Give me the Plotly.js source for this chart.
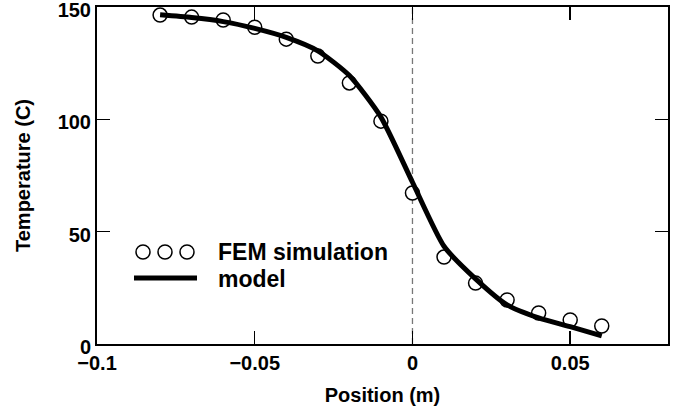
<!DOCTYPE html>
<html>
<head>
<meta charset="utf-8">
<script src="https://cdn.plot.ly/plotly-3.0.1.min.js"></script>
<style>html,body{margin:0;padding:0;background:#fff;}#chart{width:682px;height:411px;}</style>
</head>
<body>
<div id="chart"></div>
<script>
const femX = [-0.08, -0.07, -0.06, -0.05, -0.04, -0.03, -0.02, -0.01, 0, 0.01, 0.02, 0.03, 0.04, 0.05, 0.06];
const femT = [146.4, 145.5, 144.2, 141, 135.7, 128.2, 116.2, 99.2, 67.2, 38.7, 27.1, 19.6, 13.8, 10.7, 8];
const modelX = [-0.08, -0.07, -0.06, -0.05, -0.04, -0.03, -0.02, -0.01, 0, 0.01, 0.02, 0.03, 0.04, 0.05, 0.06];
const modelT = [146.5, 145.3, 143.5, 140.5, 136.5, 130.5, 119.5, 101, 72, 43.5, 29, 17.4, 11.6, 7.7, 3.6];
const xTicks = [-0.1, -0.05, 0, 0.05];
const xTickText = ['\u22120.1', '\u22120.05', '0', '0.05'];
const yTicks = [0, 50, 100, 150];
const legendLabels = ['FEM simulation', 'model'];

const fontFam = '"Liberation Sans", Arial, sans-serif';

const traces = [
  {x: femX, y: femT, mode: 'markers', type: 'scatter', name: legendLabels[0],
   marker: {symbol: 'circle', size: 14, color: '#ffffff', line: {color: '#000', width: 1.5}}},
  {x: modelX, y: modelT, mode: 'lines', type: 'scatter', name: legendLabels[1],
   line: {color: '#000', width: 5, shape: 'spline', smoothing: 0.6}}
];

// legend drawn by hand (three circles + thick line)
const legShapes = [];
[143, 165, 187].forEach(px => {
  legShapes.push({type: 'circle', xref: 'paper', yref: 'paper', xsizemode: 'pixel', ysizemode: 'pixel',
    xanchor: (px - 97) / 571, yanchor: (344 - 252) / 337, x0: -7, x1: 7, y0: -7, y1: 7,
    line: {color: '#000', width: 1.5}, fillcolor: '#fff'});
});
legShapes.push({type: 'line', xref: 'paper', yref: 'paper',
  x0: (134 - 97) / 571, x1: (197 - 97) / 571, y0: (344 - 278) / 337, y1: (344 - 278) / 337,
  line: {color: '#000', width: 5}});

const layout = {
  width: 682, height: 411,
  margin: {l: 97, r: 14, t: 7, b: 67},
  paper_bgcolor: '#fff', plot_bgcolor: '#fff',
  showlegend: false,
  font: {family: fontFam, color: '#000'},
  xaxis: {
    range: [-0.1, 0.081], tickvals: xTicks, ticktext: xTickText,
    ticks: 'inside', ticklen: 13, tickwidth: 1.5, tickcolor: '#000',
    showline: true, linecolor: '#000', linewidth: 2, mirror: 'ticks',
    showgrid: false, zeroline: false, ticklabeloverflow: 'allow',
    tickfont: {size: 20, weight: 'bold', family: fontFam},
    title: {text: 'Position (m)', font: {size: 20, weight: 'bold', family: fontFam}, standoff: 15}
  },
  yaxis: {
    range: [0, 150], tickvals: yTicks,
    ticks: 'inside', ticklen: 13, tickwidth: 1.5, tickcolor: '#000',
    showline: true, linecolor: '#000', linewidth: 2, mirror: 'ticks',
    showgrid: false, zeroline: false, ticklabeloverflow: 'allow', ticklabelshift: 3,
    tickfont: {size: 20, weight: 'bold', family: fontFam},
    title: {text: 'Temperature (C)', font: {size: 20, weight: 'bold', family: fontFam}, standoff: 22}
  },
  shapes: [
    {type: 'line', xref: 'x', yref: 'paper', x0: 0, x1: 0, y0: 0, y1: 1,
     line: {color: '#777', width: 1.3, dash: '6px,4px'}, layer: 'below'}
  ].concat(legShapes),
  annotations: [
    {xref: 'paper', yref: 'paper', x: (216 - 97) / 571, y: (344 - 252) / 337, xanchor: 'left', yanchor: 'middle',
     text: legendLabels[0], showarrow: false, font: {size: 23, weight: 'bold', family: fontFam}},
    {xref: 'paper', yref: 'paper', x: (216 - 97) / 571, y: (344 - 279) / 337, xanchor: 'left', yanchor: 'middle',
     text: legendLabels[1], showarrow: false, font: {size: 23, weight: 'bold', family: fontFam}}
  ]
};

Plotly.newPlot('chart', traces, layout, {displayModeBar: false, staticPlot: true});
</script>
</body>
</html>
